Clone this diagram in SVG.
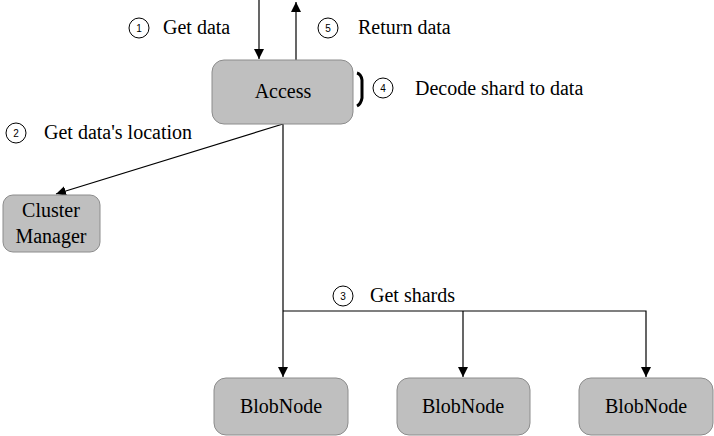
<svg xmlns="http://www.w3.org/2000/svg" width="714" height="436" viewBox="0 0 714 436">
<defs>
<marker id="ah" viewBox="0 0 10 10" refX="10" refY="5" markerWidth="10" markerHeight="10" markerUnits="userSpaceOnUse" orient="auto"><path d="M0,0 L10,5 L0,10 z" fill="#000"/></marker>
<style>
.box{fill:#bfbfbf;stroke:#8c8c8c;stroke-width:1}
.n{font-size:10px;fill:#000;text-anchor:middle}
.c{fill:#fff;stroke:#000;stroke-width:1}
.l{fill:none;stroke:#000;stroke-width:1.2}
</style>
</defs>
<rect width="714" height="436" fill="#fff"/>
<g id="connectors">
<line class="l" x1="259" y1="0" x2="259" y2="59" marker-end="url(#ah)"/>
<line class="l" x1="296" y1="60" x2="296" y2="2" marker-end="url(#ah)"/>
<line class="l" x1="283" y1="124" x2="56" y2="194" marker-end="url(#ah)"/>
<polyline class="l" points="283,124 283,377" marker-end="url(#ah)"/>
<polyline class="l" points="283,311 646,311 646,377" marker-end="url(#ah)"/>
<line class="l" x1="463" y1="311" x2="463" y2="377" marker-end="url(#ah)"/>
<path d="M357,73 Q361,74 362,80 L362,98 Q361,104 357,106" fill="none" stroke="#000" stroke-width="3"/>
</g>
<g font-family="Liberation Serif, DejaVu Serif, serif" font-size="20" fill="#000">
<g id="access"><rect class="box" x="212" y="60" width="141" height="64" rx="12"/><text x="283" y="98" text-anchor="middle">Access</text></g>
<g id="cluster-manager"><rect class="box" x="3" y="195" width="97" height="57" rx="10"/><text x="51" y="217" text-anchor="middle">Cluster</text><text x="51" y="243" text-anchor="middle">Manager</text></g>
<g id="blobnode1"><rect class="box" x="214" y="378" width="134" height="57" rx="12"/><text x="281" y="413" text-anchor="middle">BlobNode</text></g>
<g id="blobnode2"><rect class="box" x="397" y="378" width="133" height="57" rx="12"/><text x="463" y="413" text-anchor="middle">BlobNode</text></g>
<g id="blobnode3"><rect class="box" x="579" y="378" width="134" height="57" rx="12"/><text x="646" y="413" text-anchor="middle">BlobNode</text></g>
<g id="labels">
<circle class="c" cx="139" cy="28" r="10"/><text class="n" x="139" y="32" font-family="Liberation Sans, sans-serif">1</text><text x="163" y="34">Get data</text>
<circle class="c" cx="328" cy="28" r="10"/><text class="n" x="328" y="32" font-family="Liberation Sans, sans-serif">5</text><text x="358" y="34">Return data</text>
<circle class="c" cx="383" cy="88" r="10"/><text class="n" x="383" y="92" font-family="Liberation Sans, sans-serif">4</text><text x="415" y="95">Decode shard to data</text>
<circle class="c" cx="16" cy="133" r="10"/><text class="n" x="16" y="137" font-family="Liberation Sans, sans-serif">2</text><text x="44" y="139">Get data's location</text>
<circle class="c" cx="343" cy="296" r="10"/><text class="n" x="343" y="300" font-family="Liberation Sans, sans-serif">3</text><text x="370" y="302">Get shards</text>
</g>
</g>
</svg>
